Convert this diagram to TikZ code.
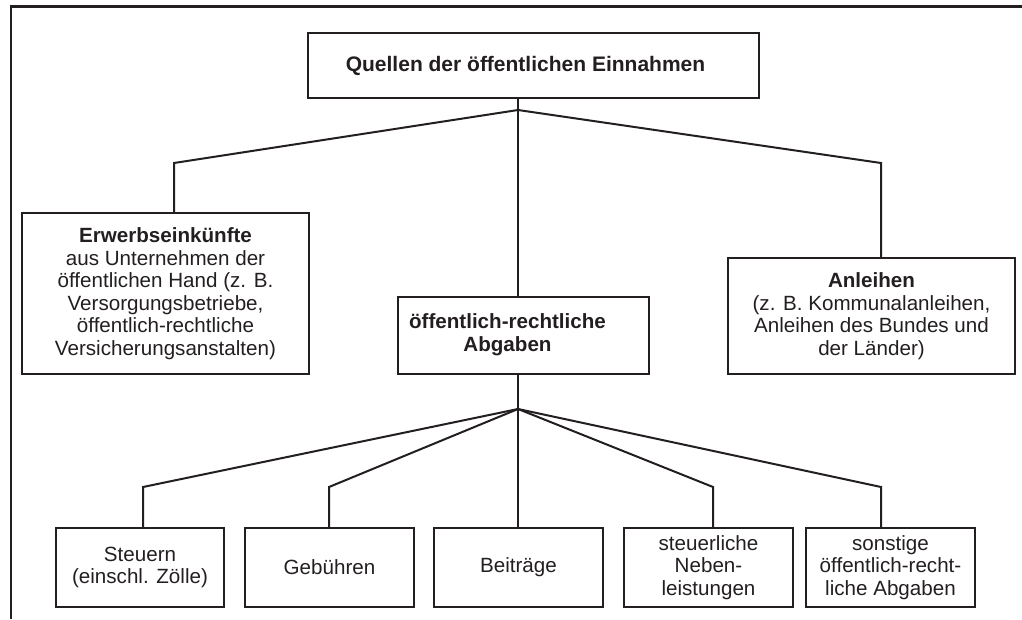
\documentclass[tikz,border=0pt]{standalone}
\usepackage{fontspec}
\setmainfont{Liberation Sans}
\begin{document}
\definecolor{ink}{HTML}{231F20}
\begin{tikzpicture}[x=1pt,y=-1pt,
  box/.style={draw=ink,line width=1.6pt,inner sep=0pt,align=center,text=ink,
    font=\fontsize{20.6}{22.5}\selectfont},
  link/.style={draw=ink,line width=2pt,line join=miter},
  frameline/.style={draw=ink,line width=2.6pt}]
\useasboundingbox (0,0) rectangle (1022,619);
% outer frame (top and left edges only)
\draw[frameline] (11,619) -- (11,6.5) -- (1022,6.5);

% level 0
\node[box,minimum width=451pt,minimum height=65pt,line width=1.8pt,
  font=\fontsize{21}{23}\selectfont\bfseries] (top) at (533.5,65.5)
  {Quellen der öffentlichen Einnahmen\hspace*{16pt}};

% level 1
\node[box,minimum width=287pt,minimum height=161pt] (erw) at (165.5,293.5)
  {\textbf{Erwerbseinkünfte}\\aus Unternehmen der\\öffentlichen Hand (z. B.\\Versorgungsbetriebe,\\öffentlich-rechtliche\\Versicherungsanstalten)};
\node[box,minimum width=251pt,minimum height=77pt,font=\fontsize{20.6}{22.5}\selectfont\bfseries,align=none] (abg) at (523.5,335.5)
  {\begin{tabular}{@{}c@{}}öffentlich-rechtliche\\[0.5pt]Abgaben\end{tabular}\hspace*{32pt}};
\node[box,minimum width=287pt,minimum height=116pt] (anl) at (871.5,316)
  {\textbf{Anleihen}\\(z. B. Kommunalanleihen,\\Anleihen des Bundes und\\der Länder)};

% level 2
\node[box,minimum width=168pt,minimum height=79pt] (st) at (140,567.5)
  {Steuern\\(einschl. Zölle)};
\node[box,minimum width=169pt,minimum height=79pt] (geb) at (329.5,567.5)
  {Gebühren};
\node[box,minimum width=169pt,minimum height=79pt] (bei) at (518.5,567.5)
  {Beiträge};
\node[box,minimum width=169pt,minimum height=79pt] (neb) at (708.5,567.5)
  {steuerliche\\Neben-\\leistungen};
\node[box,minimum width=169pt,minimum height=79pt] (son) at (890.5,567.5)
  {sonstige\\öffentlich-recht-\\liche Abgaben};

% branching points and bends
\coordinate (j1) at (518,110);
\coordinate (cl) at (174,163);
\coordinate (cr) at (881,163);
\coordinate (j2) at (518,409);
\coordinate (b1) at (143,487);
\coordinate (b2) at (329,487);
\coordinate (b3) at (518,487);
\coordinate (b4) at (713,487);
\coordinate (b5) at (881,487);

% connectors, level 0 -> 1
\draw[link] (j1 |- top.south) -- (j1) -- (j1 |- abg.north);
\draw[link] (j1) -- (cl) -- (cl |- erw.north);
\draw[link] (j1) -- (cr) -- (cr |- anl.north);

% connectors, level 1 -> 2
\draw[link] (j2 |- abg.south) -- (j2);
\draw[link] (j2) -- (b1) -- (b1 |- st.north);
\draw[link] (j2) -- (b2) -- (b2 |- geb.north);
\draw[link] (j2) -- (b3) -- (b3 |- bei.north);
\draw[link] (j2) -- (b4) -- (b4 |- neb.north);
\draw[link] (j2) -- (b5) -- (b5 |- son.north);
\end{tikzpicture}
\end{document}
